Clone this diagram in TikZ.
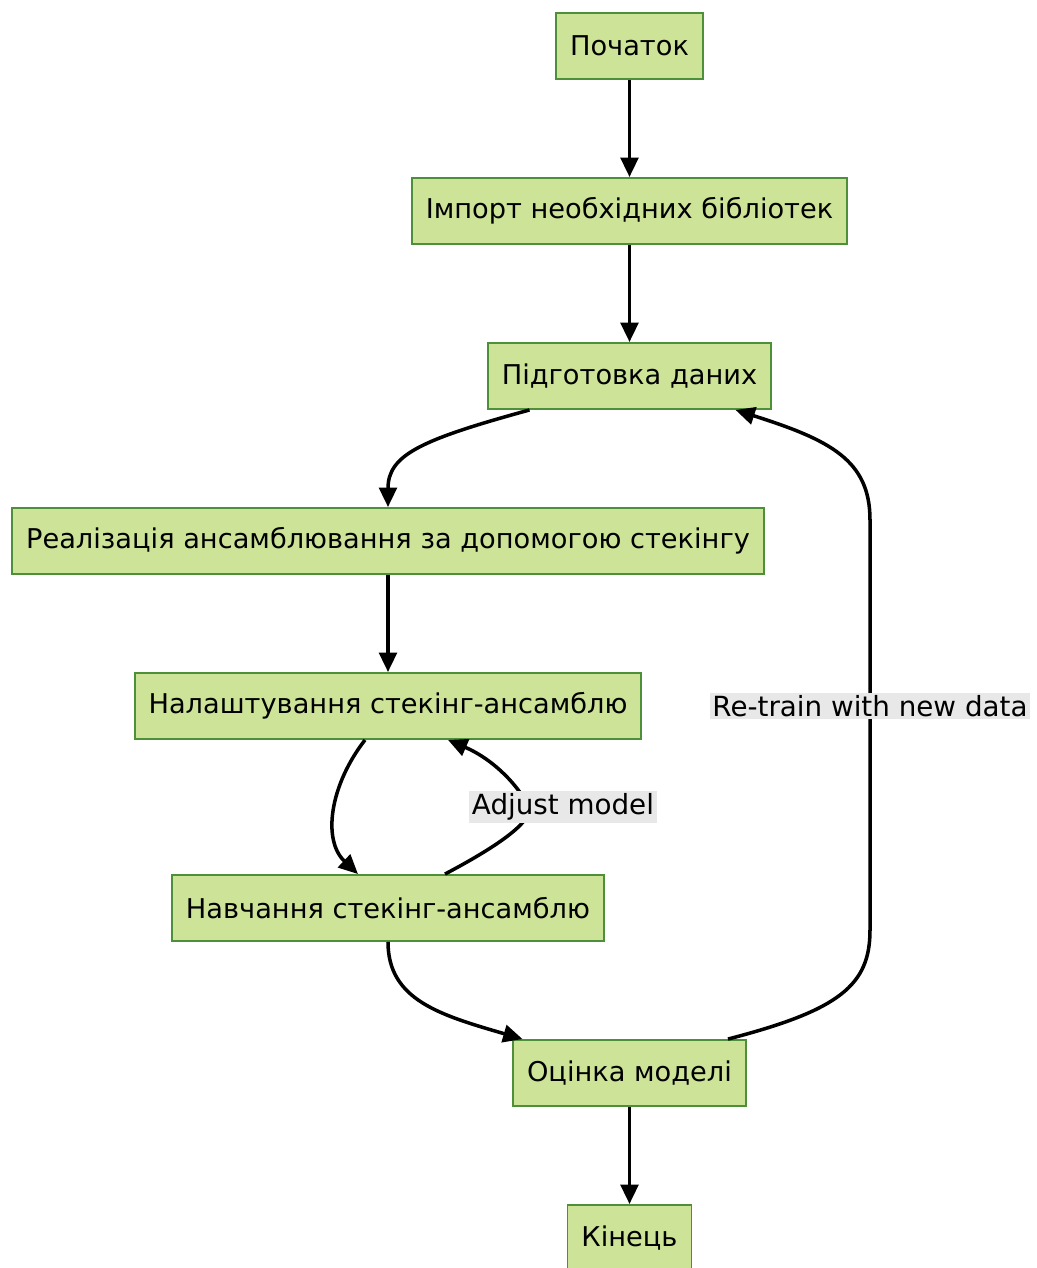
\documentclass[tikz,border=0pt]{standalone}
\usepackage{fontspec}
\setmainfont{DejaVu Sans}
\usetikzlibrary{arrows.meta,calc}
\definecolor{boxfill}{HTML}{CDE498}
\definecolor{boxline}{HTML}{4E8F3A}
\definecolor{lblfill}{HTML}{E8E8E8}

\begin{document}
\begin{tikzpicture}[x=0.02cm,y=-0.02cm,
    stepbox/.style={draw=boxline,fill=boxfill,line width=1.1pt,minimum height=1.32cm,
        inner xsep=0.28cm,font=\fontsize{15.5}{18}\selectfont},
    flow/.style={line width=2pt,-{Triangle[length=11pt,width=10pt]}},
    lbl/.style={fill=lblfill,inner sep=1.5pt,font=\fontsize{15.8}{18}\selectfont}]
    \useasboundingbox (0,0) rectangle (1037,1268);
    \def\cx{629.5}
    \def\lx{388}
    \def\rx{870}
    % boxes
    \node[stepbox] (start) at (\cx,46) {Початок};
    \node[stepbox] (import) at (\cx,211) {Імпорт необхідних бібліотек};
    \node[stepbox] (prep) at (\cx,376) {Підготовка даних};
    \node[stepbox] (stack) at (\lx,541) {Реалізація ансамблювання за допомогою стекінгу};
    \node[stepbox] (tune) at (\lx,706) {Налаштування стекінг-ансамблю};
    \node[stepbox] (train) at (\lx,908) {Навчання стекінг-ансамблю};
    \node[stepbox] (eval) at (\cx,1073) {Оцінка моделі};
    \node[stepbox] (finish) at (\cx,1238) {Кінець};
    % straight arrows
    \draw[flow] (start) -- (import);
    \draw[flow] (import) -- (prep);
    \draw[flow] (stack) -- (tune);
    \draw[flow] (eval) -- (finish);
    % curved arrows
    \draw[flow] ($(prep.south)+(-100,0)$) .. controls (420,440) and (\lx,455) .. (stack.north);
    \draw[flow] ($(tune.south)+(-23,0)$) .. controls (330,785) and (322,840) .. ($(train.north)+(-30,0)$);
    \draw[flow] ($(train.north)+(57,0)$) .. controls (500,845) and (535,820) .. (528,806)
        .. controls (520,788) and (495,760) .. ($(tune.south)+(60,0)$);
    \draw[flow] (train.south) .. controls (\lx,1000) and (440,1015) .. ($(eval.north)+(-107,0)$);
    \draw[flow] ($(eval.north)+(98.5,0)$) .. controls (840,1010) and (\rx,985) .. (\rx,930)
        -- (\rx,520) .. controls (\rx,460) and (830,440) .. ($(prep.south)+(106,0)$);
    % labels
    \node[lbl] (adjust) at (563,807) {Adjust model};
    \node[lbl] (retrain) at (\rx,706) {Re-train with new data};
\end{tikzpicture}
\end{document}
